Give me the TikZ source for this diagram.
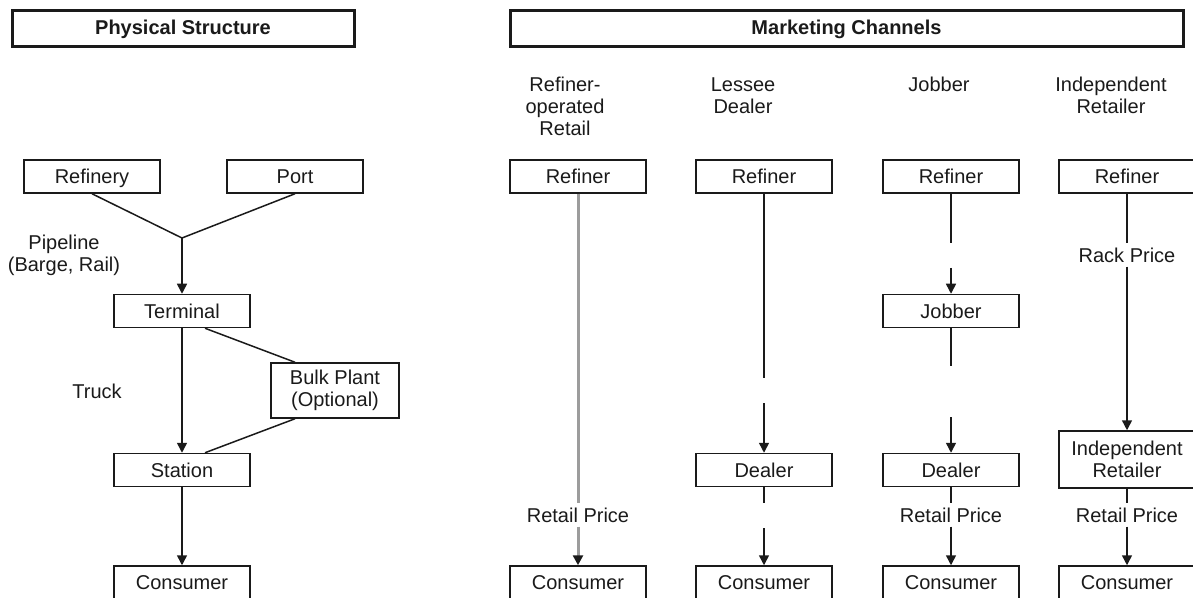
\documentclass[tikz,border=0pt]{standalone}
\usepackage{fontspec}
\setmainfont{Liberation Sans}
\usetikzlibrary{arrows.meta,positioning,calc}
\definecolor{ink}{HTML}{1A1A1A}
\definecolor{greyline}{HTML}{9C9C9C}

\begin{document}
\begin{tikzpicture}[x=0.5pt, y=-0.5pt, every node/.style={font=\fontsize{10}{11}\selectfont, text=ink}, box/.style={draw=ink, line width=0.75pt, minimum width=68pt, minimum height=16.5pt, inner sep=1pt, text height=7.2pt, text depth=0pt, align=center}, tallbox/.style={box, text height={}, text depth={}}, head/.style={draw=ink, line width=1.5pt, minimum height=18pt, font=\fontsize{10}{11}\selectfont\bfseries}, txt/.style={align=center, inner sep=2pt}, seg/.style={draw=ink, line width=0.75pt}, arr/.style={seg, -{Triangle[length=5pt,width=5pt]}}, greyarr/.style={draw=greyline, line width=1.5pt, -{Triangle[length=5pt,width=5pt,color=ink]}}]
\useasboundingbox (0,0) rectangle (1193,598);
% titles
\node[head, minimum width=171pt] (phys) at (183,29) {Physical Structure};
\node[head, minimum width=336.5pt] (mkt) at (846.5,29) {Marketing Channels};
% physical structure
\node[box] (refy) at (92,176.5) {Refinery};
\node[box] (port) at (295,176.5) {Port};
\coordinate (join) at (182,238);
\node[box] (term) at (182,311) {Terminal};
\node[tallbox, minimum width=64pt, minimum height=27.5pt] (bulk) at (335,390.5) {Bulk Plant\\(Optional)};
\node[box] (stat) at (182,470) {Station};
\node[box] (cons0) at (182,582.5) {Consumer};
\node[txt] (pipe) at (64,255) {Pipeline\\(Barge, Rail)};
\node[txt] (truck) at (97,391) {Truck};
\draw[seg] (refy.south) -- (join) -- (port.south);
\draw[arr] (join) -- (term);
\draw[arr] (term) -- (stat);
\draw[seg] ($(term.south)+(23,0)$) -- ($(bulk.north)+(-40,0)$);
\draw[seg] ($(bulk.south)+(-40,0)$) -- ($(stat.north)+(23,0)$);
\draw[arr] (stat) -- (cons0);
% channel headings
\node[txt, anchor=north] (hA) at (565,73) {Refiner-\\operated\\Retail};
\node[txt, anchor=north] (hB) at (743,73) {Lessee\\Dealer};
\node[txt, anchor=north] (hC) at (939,73) {Jobber};
\node[txt, anchor=north] (hD) at (1111,73) {Independent\\Retailer};
% refiners and consumers
\node[box] (rA) at (578,176.5) {Refiner};
\node[box] (rB) at (764,176.5) {Refiner};
\node[box] (rC) at (951,176.5) {Refiner};
\node[box] (rD) at (1127,176.5) {Refiner};
\node[box] (cA) at (578,582.5) {Consumer};
\node[box] (cB) at (764,582.5) {Consumer};
\node[box] (cC) at (951,582.5) {Consumer};
\node[box] (cD) at (1127,582.5) {Consumer};
% middle steps
\node[box] (jC) at (951,311) {Jobber};
\node[box] (dB) at (764,470) {Dealer};
\node[box] (dC) at (951,470) {Dealer};
\node[tallbox, minimum height=28.5pt] (iD) at (1127,459.5) {Independent\\Retailer};
% price labels
\node[txt] (pA) at (578,515) {Retail Price};
\node[txt] (pC) at (951,515) {Retail Price};
\node[txt] (pD) at (1127,515) {Retail Price};
\node[txt] (kD) at (1127,255) {Rack Price};
% gaps
\coordinate (gB1) at (764,378);
\coordinate (gB2) at (764,403);
\coordinate (gB3) at (764,503);
\coordinate (gB4) at (764,528);
\coordinate (gC1) at (951,243);
\coordinate (gC2) at (951,268);
\coordinate (gC3) at (951,366);
\coordinate (gC4) at (951,417);
% channels
\draw[greyarr, -] (rA) -- (pA);
\draw[greyarr] (pA) -- (cA);
\draw[seg] (rB) -- (gB1);
\draw[arr] (gB2) -- (dB);
\draw[seg] (dB) -- (gB3);
\draw[arr] (gB4) -- (cB);
\draw[seg] (rC) -- (gC1);
\draw[arr] (gC2) -- (jC);
\draw[seg] (jC) -- (gC3);
\draw[arr] (gC4) -- (dC);
\draw[seg] (dC) -- (pC);
\draw[arr] (pC) -- (cC);
\draw[seg] (rD) -- (kD);
\draw[arr] (kD) -- (iD);
\draw[seg] (iD) -- (pD);
\draw[arr] (pD) -- (cD);
\end{tikzpicture}
\end{document}
